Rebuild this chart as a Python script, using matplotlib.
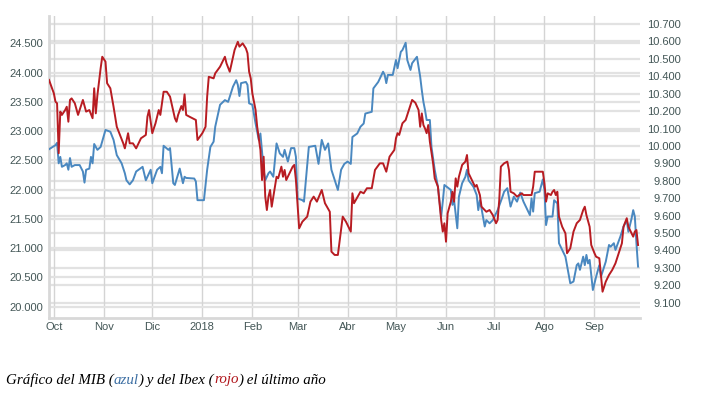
import pandas as pd
import matplotlib
matplotlib.use('Agg')
import matplotlib.pyplot as plt
from matplotlib.ticker import FixedLocator, FuncFormatter

# MIB (azul, eje izquierdo)
mib_dates = [
    '2017-09-28', '2017-10-02', '2017-10-03', '2017-10-04', '2017-10-05', '2017-10-06', '2017-10-08',
    '2017-10-09', '2017-10-10', '2017-10-11', '2017-10-12', '2017-10-14', '2017-10-17', '2017-10-19',
    '2017-10-20', '2017-10-21', '2017-10-23', '2017-10-24', '2017-10-25', '2017-10-26', '2017-10-28',
    '2017-10-30', '2017-11-02', '2017-11-05', '2017-11-07', '2017-11-09', '2017-11-12', '2017-11-14',
    '2017-11-15', '2017-11-17', '2017-11-19', '2017-11-21', '2017-11-25', '2017-11-27', '2017-11-30',
    '2017-12-01', '2017-12-04', '2017-12-06', '2017-12-07', '2017-12-08', '2017-12-11', '2017-12-12',
    '2017-12-14', '2017-12-15', '2017-12-18', '2017-12-20', '2017-12-21', '2017-12-22', '2017-12-27',
    '2017-12-28', '2017-12-29', '2018-01-02', '2018-01-04', '2018-01-06', '2018-01-08', '2018-01-09',
    '2018-01-12', '2018-01-15', '2018-01-17', '2018-01-20', '2018-01-22', '2018-01-23', '2018-01-24',
    '2018-01-25', '2018-01-28', '2018-01-29', '2018-01-30', '2018-02-01', '2018-02-03', '2018-02-05',
    '2018-02-06', '2018-02-08', '2018-02-09', '2018-02-11', '2018-02-12', '2018-02-14', '2018-02-16',
    '2018-02-18', '2018-02-20', '2018-02-21', '2018-02-23', '2018-02-25', '2018-02-27', '2018-02-28',
    '2018-03-01', '2018-03-04', '2018-03-05', '2018-03-08', '2018-03-12', '2018-03-14', '2018-03-16',
    '2018-03-18', '2018-03-20', '2018-03-22', '2018-03-26', '2018-03-28', '2018-03-30', '2018-04-01',
    '2018-04-03', '2018-04-04', '2018-04-07', '2018-04-09', '2018-04-11', '2018-04-12', '2018-04-16',
    '2018-04-17', '2018-04-20', '2018-04-23', '2018-04-24', '2018-04-25', '2018-04-26', '2018-04-29',
    '2018-05-01', '2018-05-02', '2018-05-04', '2018-05-05', '2018-05-07', '2018-05-08', '2018-05-10',
    '2018-05-11', '2018-05-14', '2018-05-16', '2018-05-17', '2018-05-18', '2018-05-19', '2018-05-20',
    '2018-05-22', '2018-05-23', '2018-05-25', '2018-05-27', '2018-05-29', '2018-05-30', '2018-05-31',
    '2018-06-04', '2018-06-05', '2018-06-06', '2018-06-08', '2018-06-09', '2018-06-11', '2018-06-13',
    '2018-06-14', '2018-06-15', '2018-06-18', '2018-06-20', '2018-06-21', '2018-06-22', '2018-06-23',
    '2018-06-25', '2018-06-26', '2018-06-28', '2018-06-30', '2018-07-03', '2018-07-06', '2018-07-07',
    '2018-07-09', '2018-07-11', '2018-07-13', '2018-07-15', '2018-07-17', '2018-07-19', '2018-07-21',
    '2018-07-23', '2018-07-24', '2018-07-25', '2018-07-26', '2018-07-29', '2018-07-31', '2018-08-01',
    '2018-08-02', '2018-08-03', '2018-08-06', '2018-08-07', '2018-08-09', '2018-08-10', '2018-08-14',
    '2018-08-17', '2018-08-19', '2018-08-21', '2018-08-22', '2018-08-23', '2018-08-25', '2018-08-26',
    '2018-08-27', '2018-08-28', '2018-08-29', '2018-08-31', '2018-09-02', '2018-09-04', '2018-09-05',
    '2018-09-08', '2018-09-10', '2018-09-11', '2018-09-13', '2018-09-14', '2018-09-17', '2018-09-19',
    '2018-09-21', '2018-09-22', '2018-09-24', '2018-09-25', '2018-09-26', '2018-09-27', '2018-09-28',
]
mib_values = [
    22690, 22760, 22800, 22450, 22560, 22390, 22420,
    22450, 22340, 22540, 22390, 22420, 22420, 22310,
    22120, 22340, 22360, 22560, 22450, 22780, 22680,
    22730, 23020, 22990, 22850, 22590, 22450, 22280,
    22160, 22090, 22160, 22310, 22390, 22160, 22340,
    22110, 22340, 22390, 22280, 22750, 22680, 22710,
    22110, 22080, 22360, 22110, 22220, 22200, 22190,
    22140, 21820, 21820, 22340, 22730, 22820, 23075,
    23450, 23530, 23500, 23760, 23870, 23790, 23600,
    23820, 23840, 23790, 23475, 23450, 23130, 22850,
    22960, 22340, 22160, 22280, 22310, 22220, 22790,
    22620, 22560, 22680, 22480, 22710, 22710, 22560,
    21850, 21820, 21795, 22730, 22750, 22440, 22850,
    22680, 22790, 22340, 21995, 22340, 22440, 22480,
    22440, 22900, 22960, 23075, 23130, 23300, 23330,
    23730, 23840, 24015, 23960, 23820, 23960, 23960,
    24215, 24075, 24355, 24385, 24510, 24215, 24045,
    24160, 24270, 23930, 23700, 23500, 23360, 23190,
    23190, 22730, 22340, 22050, 21540, 21795, 22080,
    21995, 21740, 21820, 21340, 21880, 22110, 22220,
    22340, 22160, 22050, 21910, 21650, 21820, 21680,
    21370, 21480, 21425, 21480, 21650, 21880, 21965,
    22025, 21710, 21880, 21795, 21950, 21795, 21680,
    21565, 21850, 21625, 21940, 21965, 22175, 21995,
    21395, 21540, 21540, 21820, 21765, 21085, 20855,
    20400, 20430, 20710, 20740, 20630, 20855, 20710,
    20885, 20740, 20800, 20285, 20510, 20710, 20510,
    20770, 21055, 21025, 21085, 20970, 21195, 21370,
    21480, 21280, 21510, 21650, 21540, 21085, 20685,
]

# Ibex (rojo, eje derecho)
ibex_dates = [
    '2017-09-28', '2017-10-01', '2017-10-02', '2017-10-03', '2017-10-04', '2017-10-05', '2017-10-06',
    '2017-10-08', '2017-10-09', '2017-10-10', '2017-10-11', '2017-10-12', '2017-10-14', '2017-10-16',
    '2017-10-19', '2017-10-21', '2017-10-23', '2017-10-25', '2017-10-26', '2017-10-27', '2017-10-28',
    '2017-10-30', '2017-10-31', '2017-11-02', '2017-11-03', '2017-11-05', '2017-11-07', '2017-11-09',
    '2017-11-11', '2017-11-13', '2017-11-14', '2017-11-16', '2017-11-17', '2017-11-19', '2017-11-21',
    '2017-11-24', '2017-11-27', '2017-11-28', '2017-11-29', '2017-12-01', '2017-12-03', '2017-12-05',
    '2017-12-06', '2017-12-08', '2017-12-10', '2017-12-12', '2017-12-15', '2017-12-16', '2017-12-17',
    '2017-12-19', '2017-12-20', '2017-12-21', '2017-12-22', '2017-12-24', '2017-12-28', '2017-12-29',
    '2018-01-01', '2018-01-03', '2018-01-04', '2018-01-05', '2018-01-08', '2018-01-09', '2018-01-12',
    '2018-01-15', '2018-01-16', '2018-01-18', '2018-01-21', '2018-01-23', '2018-01-24', '2018-01-26',
    '2018-01-28', '2018-01-29', '2018-01-30', '2018-01-31', '2018-02-01', '2018-02-03', '2018-02-04',
    '2018-02-06', '2018-02-07', '2018-02-08', '2018-02-09', '2018-02-10', '2018-02-11', '2018-02-12',
    '2018-02-13', '2018-02-16', '2018-02-17', '2018-02-19', '2018-02-20', '2018-02-21', '2018-02-22',
    '2018-02-24', '2018-02-26', '2018-02-27', '2018-02-28', '2018-03-02', '2018-03-04', '2018-03-07',
    '2018-03-09', '2018-03-11', '2018-03-13', '2018-03-16', '2018-03-18', '2018-03-21', '2018-03-22',
    '2018-03-24', '2018-03-26', '2018-03-29', '2018-03-31', '2018-04-01', '2018-04-03', '2018-04-04',
    '2018-04-05', '2018-04-09', '2018-04-11', '2018-04-13', '2018-04-16', '2018-04-18', '2018-04-21',
    '2018-04-23', '2018-04-25', '2018-04-27', '2018-04-30', '2018-05-01', '2018-05-02', '2018-05-03',
    '2018-05-05', '2018-05-07', '2018-05-09', '2018-05-11', '2018-05-13', '2018-05-15', '2018-05-16',
    '2018-05-17', '2018-05-18', '2018-05-19', '2018-05-20', '2018-05-21', '2018-05-22', '2018-05-24',
    '2018-05-25', '2018-05-27', '2018-05-29', '2018-05-30', '2018-05-31', '2018-06-01', '2018-06-02',
    '2018-06-04', '2018-06-05', '2018-06-06', '2018-06-07', '2018-06-08', '2018-06-09', '2018-06-11',
    '2018-06-13', '2018-06-14', '2018-06-15', '2018-06-17', '2018-06-19', '2018-06-20', '2018-06-22',
    '2018-06-23', '2018-06-26', '2018-06-28', '2018-06-30', '2018-07-02', '2018-07-03', '2018-07-04',
    '2018-07-05', '2018-07-07', '2018-07-09', '2018-07-10', '2018-07-11', '2018-07-13', '2018-07-15',
    '2018-07-18', '2018-07-19', '2018-07-22', '2018-07-24', '2018-07-25', '2018-07-26', '2018-07-29',
    '2018-07-31', '2018-08-01', '2018-08-02', '2018-08-03', '2018-08-05', '2018-08-06', '2018-08-07',
    '2018-08-08', '2018-08-09', '2018-08-10', '2018-08-12', '2018-08-14', '2018-08-15', '2018-08-17',
    '2018-08-19', '2018-08-21', '2018-08-23', '2018-08-25', '2018-08-26', '2018-08-27', '2018-08-29',
    '2018-08-30', '2018-09-01', '2018-09-02', '2018-09-04', '2018-09-05', '2018-09-06', '2018-09-08',
    '2018-09-10', '2018-09-12', '2018-09-14', '2018-09-16', '2018-09-18', '2018-09-19', '2018-09-21',
    '2018-09-22', '2018-09-25', '2018-09-26', '2018-09-27', '2018-09-28',
]
ibex_values = [
    10379, 10302, 10254, 10245, 9958, 10197, 10178,
    10206, 10225, 10139, 10264, 10273, 10245, 10178,
    10264, 10197, 10206, 10159, 10331, 10187, 10292,
    10446, 10512, 10484, 10360, 10331, 10225, 10110,
    10063, 10015, 9986, 10073, 10015, 10015, 9986,
    10044, 10063, 10168, 10206, 10073, 10130, 10206,
    10178, 10311, 10311, 10283, 10159, 10139, 10178,
    10229, 10206, 10296, 10178, 10168, 10149, 10034,
    10073, 10110, 10283, 10397, 10388, 10417, 10455,
    10512, 10474, 10426, 10551, 10598, 10570, 10589,
    10560, 10532, 10426, 10388, 10302, 10206, 10110,
    9977, 9804, 9938, 9709, 9632, 9709, 9747,
    9651, 9823, 9814, 9881, 9823, 9862, 9804,
    9843, 9881, 9891, 9804, 9527, 9565, 9594,
    9680, 9709, 9680, 9747, 9671, 9622, 9393,
    9374, 9374, 9594, 9565, 9546, 9508, 9728,
    9671, 9737, 9728, 9757, 9757, 9862, 9900,
    9900, 9852, 9938, 9977, 10044, 10073, 10063,
    10130, 10149, 10206, 10264, 10248, 10206, 10110,
    10187, 10120, 10100, 10073, 10120, 10024, 9900,
    9814, 9766, 9575, 9508, 9556, 9450, 9613,
    9680, 9737, 9680, 9814, 9766, 9823, 9891,
    9910, 9948, 9843, 9804, 9766, 9776, 9718,
    9651, 9622, 9632, 9603, 9556, 9575, 9690,
    9881, 9900, 9910, 9862, 9737, 9728, 9709,
    9728, 9718, 9718, 9718, 9766, 9852, 9852,
    9852, 9785, 9680, 9728, 9718, 9737, 9747,
    9718, 9737, 9594, 9536, 9498, 9384, 9412,
    9508, 9556, 9575, 9632, 9651, 9603, 9536,
    9431, 9384, 9364, 9355, 9259, 9163, 9221,
    9259, 9288, 9326, 9384, 9441, 9536, 9585,
    9536, 9479, 9508, 9517, 9431,
]

month_ticks = ['2017-10-01', '2017-11-01', '2017-12-01', '2018-01-01', '2018-02-01', '2018-03-01',
               '2018-04-01', '2018-05-01', '2018-06-01', '2018-07-01', '2018-08-01', '2018-09-01']
month_labels = ['Oct', 'Nov', 'Dic', '2018', 'Feb', 'Mar', 'Abr', 'May', 'Jun', 'Jul', 'Ago', 'Sep']
mib_ticks = list(range(20000, 24501, 500))
ibex_ticks = list(range(9100, 10701, 100))

blue = '#4a88c0'
red = '#b81c22'
label_color = '#435656'
grid_color = '#e2e2e2'


def miles(v, pos=None):
    return f"{v:,.0f}".replace(",", ".")


fig = plt.figure(figsize=(7.01, 3.96), dpi=100)
ax1 = fig.add_axes([49 / 701, 78 / 396, 591 / 701, 302 / 396])
ax2 = ax1.twinx()

ax1.set_xlim(pd.Timestamp('2017-09-28'), pd.Timestamp('2018-09-29 05:00'))
ax1.set_ylim(19807, 24967)
ax2.set_ylim(9012, 10746)

ax1.plot(pd.to_datetime(mib_dates), mib_values, color=blue, lw=1.4, zorder=3)
ax2.plot(pd.to_datetime(ibex_dates), ibex_values, color=red, lw=1.4, zorder=3)

# ticks
ax1.xaxis.set_major_locator(FixedLocator(matplotlib.dates.date2num(pd.to_datetime(month_ticks))))
ax1.set_xticklabels(month_labels)
ax1.yaxis.set_major_locator(FixedLocator(mib_ticks))
ax1.yaxis.set_major_formatter(FuncFormatter(miles))
ax2.yaxis.set_major_locator(FixedLocator(ibex_ticks))
ax2.yaxis.set_major_formatter(FuncFormatter(miles))

for ax in (ax1, ax2):
    ax.tick_params(length=0, labelsize=8, labelcolor=label_color)
    for lbl in ax.get_xticklabels() + ax.get_yticklabels():
        lbl.set_fontfamily('Liberation Sans')
ax1.tick_params(axis='y', pad=4)
ax1.tick_params(axis='x', pad=3)
ax2.tick_params(axis='y', pad=29.5)
for lbl in ax2.get_yticklabels():
    lbl.set_horizontalalignment('right')

# gridlines (both scales drawn under the lines)
ax1.set_axisbelow(True)
ax1.grid(axis='y', color=grid_color, lw=1.6)
ax1.grid(axis='x', color='#d4d4d4', lw=1.0)
lo1, hi1 = ax1.get_ylim()
lo2, hi2 = ax2.get_ylim()
for v in ibex_ticks:
    ax1.axhline(lo1 + (v - lo2) / (hi2 - lo2) * (hi1 - lo1), color=grid_color, lw=1.6, zorder=0.5)

for side in ('top', 'right'):
    ax1.spines[side].set_visible(False)
for s in ax2.spines.values():
    s.set_visible(False)
ax1.spines['left'].set_color('#d8d8d8')
ax1.spines['left'].set_linewidth(2)
ax1.spines['bottom'].set_color('#d8d8d8')
ax1.spines['bottom'].set_linewidth(2)

# caption with coloured words
parts = [("Gráfico del MIB (", 'black'), ("azul", '#3d6fa3'), (") y del Ibex (", 'black'),
         ("rojo", '#b0141a'), (") el último año", 'black')]
renderer = fig.canvas.get_renderer()
x = 6 / 701
for text, color in parts:
    t = fig.text(x, 1 - 380 / 396, text, color=color, fontsize=10.8, style='italic',
                 family='Liberation Serif', va='center', ha='left')
    bb = t.get_window_extent(renderer=renderer)
    x = bb.x1 / (7.01 * 100)

fig.savefig('out.png', dpi=100)
